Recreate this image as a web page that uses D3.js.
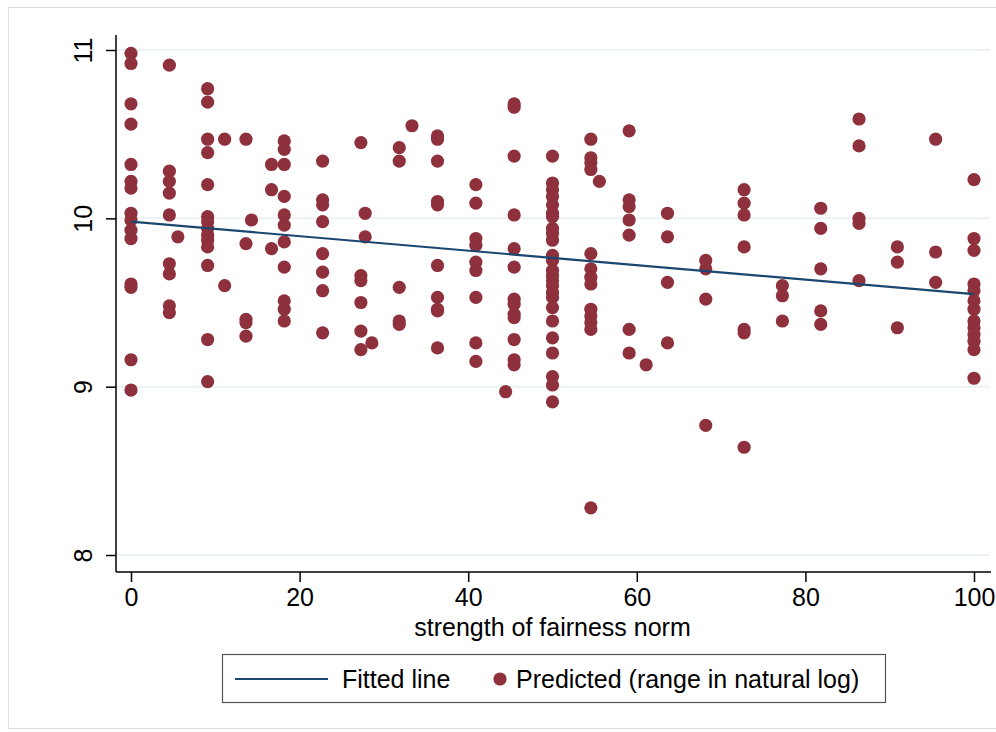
<html>
<script src='https://d3js.org/d3.v7.min.js'></script>
<head>
    <meta charset="UTF-8">
    <style>
        body { margin: 0; background: #fff; }
        svg { display: block; }
        text { font-family: "Liberation Sans", Arial, sans-serif; fill: #000; }
    </style>
</head>
<body>
<svg width=996 height=732></svg>
</body>
<script>
    // fairness norm levels (x) and the predicted values seen at each level (y)
    const normLevels = [0, 4.55, 5.56, 9.09, 11.11, 13.64, 14.29, 16.67, 18.18, 22.73, 27.27, 27.78,
        28.57, 31.82, 33.33, 36.36, 40.91, 44.44, 45.45, 50, 54.55, 55.56, 59.09, 61.11, 63.64,
        68.18, 72.73, 77.27, 81.82, 86.36, 90.91, 95.45, 100];

    const predicted = [
        [10.98, 10.92, 10.68, 10.56, 10.32, 10.22, 10.18, 10.03, 9.99, 9.93, 9.88, 9.61, 9.59, 9.16, 8.98],
        [10.91, 10.28, 10.22, 10.15, 10.02, 9.73, 9.67, 9.48, 9.44],
        [9.89],
        [10.77, 10.69, 10.47, 10.39, 10.20, 10.01, 9.98, 9.94, 9.90, 9.87, 9.83, 9.72, 9.28, 9.03],
        [10.47, 9.60],
        [10.47, 9.85, 9.40, 9.38, 9.30],
        [9.99],
        [10.32, 10.17, 9.82],
        [10.46, 10.41, 10.32, 10.13, 10.02, 9.96, 9.86, 9.71, 9.51, 9.46, 9.39],
        [10.34, 10.11, 10.08, 9.98, 9.79, 9.68, 9.57, 9.32],
        [10.45, 9.66, 9.63, 9.50, 9.33, 9.22],
        [10.03, 9.89],
        [9.26],
        [10.42, 10.34, 9.59, 9.39, 9.37],
        [10.55],
        [10.49, 10.47, 10.34, 10.10, 10.08, 9.72, 9.53, 9.46, 9.45, 9.23],
        [10.20, 10.09, 9.88, 9.84, 9.74, 9.69, 9.53, 9.26, 9.15],
        [8.97],
        [10.68, 10.66, 10.37, 10.02, 9.82, 9.71, 9.52, 9.49, 9.43, 9.41, 9.28, 9.16, 9.13],
        [10.37, 10.21, 10.17, 10.13, 10.08, 10.03, 10.01, 9.94, 9.91, 9.87, 9.78, 9.75, 9.69, 9.66,
         9.63, 9.60, 9.56, 9.53, 9.47, 9.39, 9.29, 9.20, 9.06, 9.01, 8.91],
        [10.47, 10.36, 10.33, 10.29, 9.79, 9.70, 9.65, 9.61, 9.46, 9.42, 9.38, 9.34, 8.28],
        [10.22],
        [10.52, 10.11, 10.07, 9.99, 9.90, 9.34, 9.20],
        [9.13],
        [10.03, 9.89, 9.62, 9.26],
        [9.75, 9.70, 9.52, 8.77],
        [10.17, 10.09, 10.02, 9.83, 9.34, 9.32, 8.64],
        [9.60, 9.54, 9.39],
        [10.06, 9.94, 9.70, 9.45, 9.37],
        [10.59, 10.43, 10.00, 9.97, 9.63],
        [9.83, 9.74, 9.35],
        [10.47, 9.80, 9.62],
        [10.23, 9.88, 9.81, 9.61, 9.57, 9.51, 9.46, 9.39, 9.35, 9.31, 9.27, 9.22, 9.05]
    ];

    const fittedX = [0, 100];
    const fittedY = [9.98, 9.55];

    const xTicks = [0, 20, 40, 60, 80, 100];
    const yTicks = [8, 9, 10, 11];

    const dotColor = "#8e313c",
          lineColor = "#1a476f",
          gridColor = "#eaf2f3";

    const svg = d3.select("svg");

    // outer frame
    svg.append("rect")
        .attr("x", 8.5).attr("y", 7.5)
        .attr("width", 1000).attr("height", 721)
        .attr("fill", "none")
        .attr("stroke", "#dcdcdc");

    const x = d3.scaleLinear().domain([0, 100]).range([131, 974]);
    const y = d3.scaleLinear().domain([8, 11]).range([555, 50]);

    const axisX = 116, axisY = 572;

    // gridlines
    svg.append("g").selectAll("line")
        .data(yTicks)
        .enter().append("line")
        .attr("x1", axisX).attr("x2", 990)
        .attr("y1", d => y(d)).attr("y2", d => y(d))
        .attr("stroke", gridColor)
        .attr("stroke-width", 2);

    // axes
    const gx = svg.append("g")
        .attr("transform", `translate(0,${axisY})`)
        .call(d3.axisBottom(x).tickValues(xTicks).tickSize(10).tickPadding(6).tickFormat(d3.format("d")));
    gx.select(".domain").remove();
    gx.append("line")
        .attr("x1", axisX).attr("x2", 991)
        .attr("stroke", "#000").attr("stroke-width", 1.5);
    gx.selectAll(".tick line").attr("stroke", "#000").attr("stroke-width", 1.5);
    gx.selectAll(".tick text")
        .attr("font-size", 25)
        .attr("font-family", "Liberation Sans, Arial, sans-serif")
        .attr("fill", "#000");

    const gy = svg.append("g")
        .attr("transform", `translate(${axisX},0)`)
        .call(d3.axisLeft(y).tickValues(yTicks).tickSize(10).tickFormat(d3.format("d")));
    gy.select(".domain").remove();
    gy.append("line")
        .attr("y1", 35).attr("y2", axisY)
        .attr("stroke", "#000").attr("stroke-width", 1.5);
    gy.selectAll(".tick line").attr("stroke", "#000").attr("stroke-width", 1.5);
    gy.selectAll(".tick text")
        .attr("font-size", 25)
        .attr("font-family", "Liberation Sans, Arial, sans-serif")
        .attr("fill", "#000")
        .attr("text-anchor", "middle")
        .attr("x", null).attr("dy", null)
        .attr("transform", "translate(-24,0) rotate(-90)");

    // axis title
    svg.append("text")
        .attr("x", (x(0) + x(100)) / 2)
        .attr("y", 636)
        .attr("text-anchor", "middle")
        .attr("font-size", 25)
        .text("strength of fairness norm");

    // points
    const points = [];
    normLevels.forEach((lvl, i) => predicted[i].forEach(v => points.push({x: lvl, y: v})));

    svg.append("g").selectAll("circle")
        .data(points)
        .enter().append("circle")
        .attr("cx", d => x(d.x))
        .attr("cy", d => y(d.y))
        .attr("r", 6.6)
        .attr("fill", dotColor);

    // fitted line
    const line = d3.line().x(d => x(d[0])).y(d => y(d[1]));
    svg.append("path")
        .datum(fittedX.map((v, i) => [v, fittedY[i]]))
        .attr("d", line)
        .attr("fill", "none")
        .attr("stroke", lineColor)
        .attr("stroke-width", 2.2);

    // legend
    const legend = svg.append("g");
    legend.append("rect")
        .attr("x", 222.5).attr("y", 654.5)
        .attr("width", 663).attr("height", 48)
        .attr("fill", "#fff")
        .attr("stroke", "#555")
        .attr("stroke-width", 1.2);
    legend.append("line")
        .attr("x1", 235).attr("x2", 328)
        .attr("y1", 679).attr("y2", 679)
        .attr("stroke", lineColor)
        .attr("stroke-width", 2.2);
    legend.append("text")
        .attr("x", 342).attr("y", 688)
        .attr("font-size", 25)
        .text("Fitted line");
    legend.append("circle")
        .attr("cx", 500).attr("cy", 679)
        .attr("r", 6.6)
        .attr("fill", dotColor);
    legend.append("text")
        .attr("x", 516).attr("y", 688)
        .attr("font-size", 25)
        .text("Predicted (range in natural log)");
</script>
</html>
